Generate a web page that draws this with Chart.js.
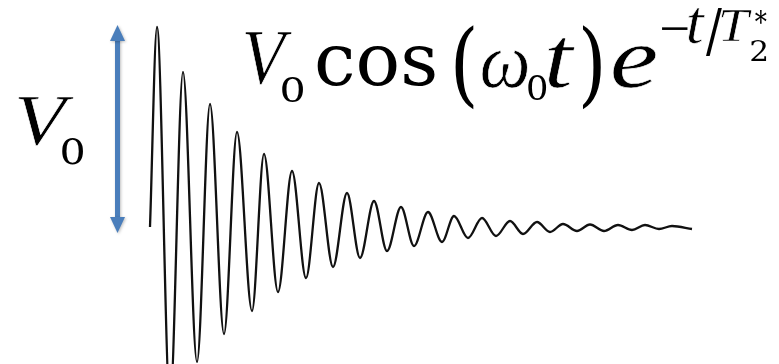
<!DOCTYPE html>
<html>
<head>
<meta charset="utf-8">
<title>Free induction decay</title>
<script src="https://cdn.jsdelivr.net/npm/chart.js@4.4.1/dist/chart.umd.min.js"></script>
<style>
  html, body { margin: 0; padding: 0; background: #fff; }
  #wrap { position: relative; width: 779px; height: 364px; }
</style>
</head>
<body>
<div id="wrap"><canvas id="fid" width="779" height="364"></canvas></div>
<script>
// FID trace: successive turning points of the ringing signal (t in µs, V in units of V0)
const times = [0, 0.7, 2.0, 3.3, 4.7, 6.0, 7.4, 8.7, 10.2, 11.4, 12.8, 14.2, 15.6, 16.9, 18.3,
  19.7, 21.0, 22.4, 23.7, 25.1, 26.4, 27.8, 29.2, 30.4, 31.8, 33.2, 34.6, 36.0, 37.3, 38.7,
  40.0, 41.3, 42.7, 44.0, 45.4, 46.8, 48.2, 49.5, 50.9, 52.2, 54.2];
const volts = [0, 1.00, -0.88, 0.775, -0.675, 0.615, -0.535, 0.475, -0.42, 0.365, -0.325,
  0.28, -0.255, 0.22, -0.20, 0.17, -0.155, 0.13, -0.12, 0.10, -0.095, 0.075, -0.075, 0.055,
  -0.055, 0.045, -0.045, 0.03, -0.035, 0.025, -0.025, 0.015, -0.02, 0.0125, -0.02, 0.01,
  -0.015, 0.01, -0.01, 0.005, -0.01];

// V0 amplitude marker
const arrowT = -3.25;
const arrowTop = 1.01;
const arrowBottom = -0.03;

const tRange = [-15, 62.9];
const vRange = [-0.685, 1.135];

const UPRIGHT = '"DejaVu Serif", serif';
const ITALIC = '"Liberation Serif", serif';

// glyph runs as [text, italic, left, top, right, bottom] ink boxes
const labelLeft = [
  ['V', true, 18, 97, 74, 145],
  ['0', false, 62, 137, 83, 164]
];
const formula = [
  ['V', true, 245, 33, 292, 85],
  ['0', false, 282, 77, 303, 102],
  ['cos', false, 317, 47, 435, 86],
  ['(', false, 455, 25, 473, 110],
  ['ω', true, 482, 50, 528, 88],
  ['0', false, 528, 75, 546, 100],
  ['t', true, 548, 38, 575, 88],
  [')', false, 583, 25, 600, 110],
  ['e', true, 613, 46, 661, 88],
  ['−', false, 662, 27, 688, 30],
  ['t', true, 688, 9, 705, 44],
  ['/', false, 706, 9, 722, 56],
  ['T', true, 721, 11, 752, 41],
  ['2', false, 751, 40, 766, 61],
  ['*', false, 755, 9, 766, 23]
];

// draw a string sized to its ink box; italic strokes get trimmed a little
function fitText(ctx, [s, italic, l, t, r, b]) {
  ctx.font = italic ? 'italic 100px ' + ITALIC : '100px ' + UPRIGHT;
  const m = ctx.measureText(s);
  const w = m.actualBoundingBoxLeft + m.actualBoundingBoxRight;
  const h = m.actualBoundingBoxAscent + m.actualBoundingBoxDescent;
  const sy = (b - t) / h;
  const sx = Math.min(Math.max((r - l) / w, sy * 0.8), sy * 1.25);
  ctx.save();
  ctx.translate(l + m.actualBoundingBoxLeft * sx, t + m.actualBoundingBoxAscent * sy);
  ctx.scale(sx, sy);
  ctx.fillText(s, 0, 0);
  if (italic) {
    ctx.strokeStyle = '#fff';
    ctx.lineWidth = 0.7 / Math.max(sx, sy);
    ctx.lineJoin = 'round';
    ctx.strokeText(s, 0, 0);
  }
  ctx.restore();
}

const overlay = {
  id: 'overlay',
  afterDatasetsDraw(chart) {
    const ctx = chart.ctx;
    const xs = chart.scales.x, ys = chart.scales.y;

    // double-headed arrow spanning 0 .. V0
    const ax = xs.getPixelForValue(arrowT);
    const top = ys.getPixelForValue(arrowTop);
    const bot = ys.getPixelForValue(arrowBottom);
    const head = 16, half = 7.5;
    ctx.save();
    ctx.fillStyle = '#4a7ebb';
    ctx.strokeStyle = '#4a7ebb';
    ctx.shadowColor = 'rgba(0,0,0,0.25)';
    ctx.shadowBlur = 3;
    ctx.shadowOffsetX = 1;
    ctx.shadowOffsetY = 1;
    ctx.lineWidth = 5;
    ctx.beginPath();
    ctx.moveTo(ax, top + head - 2);
    ctx.lineTo(ax, bot - head + 2);
    ctx.stroke();
    ctx.beginPath();
    ctx.moveTo(ax, top);
    ctx.lineTo(ax + half, top + head);
    ctx.lineTo(ax - half, top + head);
    ctx.closePath();
    ctx.fill();
    ctx.beginPath();
    ctx.moveTo(ax, bot);
    ctx.lineTo(ax + half, bot - head);
    ctx.lineTo(ax - half, bot - head);
    ctx.closePath();
    ctx.fill();
    ctx.restore();

    ctx.save();
    ctx.fillStyle = '#000';
    ctx.textBaseline = 'alphabetic';
    labelLeft.forEach(g => fitText(ctx, g));
    formula.forEach(g => fitText(ctx, g));
    ctx.restore();
  }
};

new Chart(document.getElementById('fid'), {
  type: 'line',
  data: {
    datasets: [{
      data: times.map((t, i) => ({ x: t, y: volts[i] })),
      borderColor: '#111',
      borderWidth: 2.3,
      pointRadius: 0,
      fill: false,
      cubicInterpolationMode: 'monotone'
    }]
  },
  options: {
    responsive: false,
    animation: false,
    layout: { padding: 0 },
    plugins: { legend: { display: false }, tooltip: { enabled: false } },
    scales: {
      x: { type: 'linear', min: tRange[0], max: tRange[1], display: false },
      y: { min: vRange[0], max: vRange[1], display: false }
    }
  },
  plugins: [overlay]
});
</script>
</body>
</html>
